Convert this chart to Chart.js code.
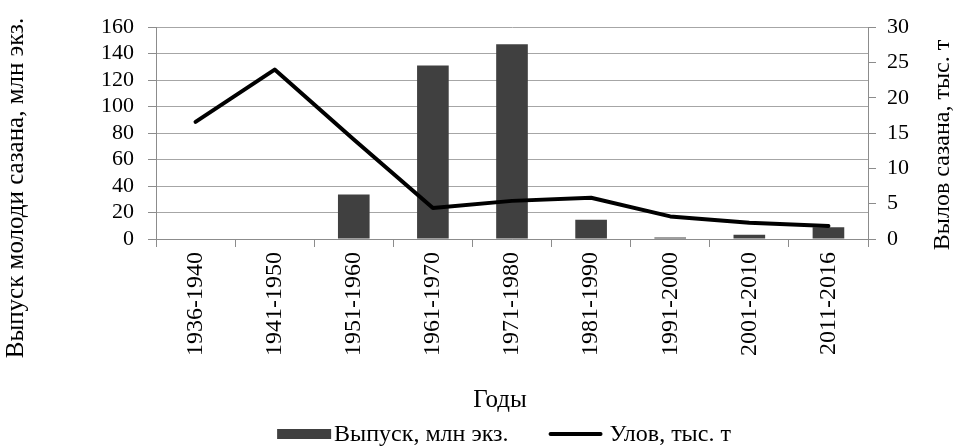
<!DOCTYPE html>
<html>
<head>
<meta charset="utf-8">
<script src="https://cdn.jsdelivr.net/npm/chart.js@4"></script>
<style>
  html, body { margin: 0; padding: 0; background: #fff; }
  #wrap { width: 956px; height: 447px; }
</style>
</head>
<body>
<div id="wrap"><canvas id="c"></canvas></div>
<script>
// данные
const years = ['1936-1940', '1941-1950', '1951-1960', '1961-1970', '1971-1980',
               '1981-1990', '1991-2000', '2001-2010', '2011-2016'];
const release = [0, 0, 33.7, 131, 147.2, 14.5, 1.2, 3.2, 8.8];   // млн экз.
const catchT  = [16.6, 24.0, 14.1, 4.4, 5.4, 5.85, 3.2, 2.3, 1.85]; // тыс. т
const leftTicks = [0, 20, 40, 60, 80, 100, 120, 140, 160];
const rightTicks = [0, 5, 10, 15, 20, 25, 30];

const FONT = '"Liberation Serif", "Times New Roman", serif';
const BAR_COLOR = '#404040';
const GRID = '#a6a6a6';
const AXIS = '#8c8c8c';

// подписи осей и легенда рисуем сами
const titlesPlugin = {
  id: 'titles',
  afterDraw(chart) {
    const ctx = chart.ctx;
    ctx.save();
    ctx.fillStyle = '#000';
    ctx.textAlign = 'center';
    ctx.textBaseline = 'middle';

    // левая ось
    ctx.font = '25px ' + FONT;
    ctx.save();
    ctx.translate(16, 188);
    ctx.rotate(-Math.PI / 2);
    ctx.fillText('Выпуск молоди сазана, млн экз.', 0, 0);
    ctx.restore();

    // правая ось
    ctx.font = '24px ' + FONT;
    ctx.save();
    ctx.translate(943, 145);
    ctx.rotate(-Math.PI / 2);
    ctx.fillText('Вылов сазана, тыс. т', 0, 0);
    ctx.restore();

    // ось X
    ctx.font = '25px ' + FONT;
    ctx.fillText('Годы', 500, 400);

    // легенда
    ctx.font = '24px ' + FONT;
    const y = 434;
    const sw = 54, gap = 3, itemGap = 40;
    const t1 = 'Выпуск, млн экз.', t2 = 'Улов, тыс. т';
    const w1 = ctx.measureText(t1).width, w2 = ctx.measureText(t2).width;
    const total = sw + gap + w1 + itemGap + sw + gap + w2;
    let x = 502 - total / 2;
    ctx.fillStyle = BAR_COLOR;
    ctx.fillRect(x, y - 5, sw, 10);
    x += sw + gap;
    ctx.fillStyle = '#000';
    ctx.textAlign = 'left';
    ctx.fillText(t1, x, y + 1);
    x += w1 + itemGap;
    ctx.strokeStyle = '#000';
    ctx.lineWidth = 4;
    ctx.lineCap = 'round';
    ctx.beginPath();
    ctx.moveTo(x + 2, y);
    ctx.lineTo(x + sw - 2, y);
    ctx.stroke();
    x += sw + gap + 4;
    ctx.fillText(t2, x, y + 1);
    ctx.restore();
  }
};

new Chart(document.getElementById('c'), {
  data: {
    labels: years,
    datasets: [
      {
        type: 'line',
        label: 'Улов, тыс. т',
        data: catchT,
        yAxisID: 'y1',
        borderColor: '#000',
        borderWidth: 4,
        pointRadius: 0,
        tension: 0,
        borderCapStyle: 'round',
        borderJoinStyle: 'round',
        order: 0
      },
      {
        type: 'bar',
        label: 'Выпуск, млн экз.',
        data: release,
        yAxisID: 'y',
        backgroundColor: BAR_COLOR,
        barPercentage: 0.5,
        categoryPercentage: 0.8,
        order: 1
      }
    ]
  },
  options: {
    responsive: true,
    maintainAspectRatio: false,
    animation: false,
    layout: { padding: { top: 22, left: 0, right: 0, bottom: 0 } },
    plugins: {
      legend: { display: false },
      tooltip: { enabled: false }
    },
    scales: {
      x: {
        offset: true,
        grid: { drawOnChartArea: false, drawTicks: true, tickLength: 8, color: AXIS, offset: true },
        border: { color: AXIS },
        ticks: {
          color: '#000',
          font: { family: FONT, size: 24 },
          minRotation: 90,
          maxRotation: 90,
          autoSkip: false,
          padding: 5
        },
        afterFit(s) { s.height = 208; }
      },
      y: {
        position: 'left',
        min: 0,
        max: 160,
        afterBuildTicks(s) { s.ticks = leftTicks.map(v => ({ value: v })); },
        grid: { color: GRID, tickLength: 8, tickColor: AXIS },
        border: { color: AXIS },
        ticks: { color: '#000', font: { family: FONT, size: 22 }, padding: 14, autoSkip: false },
        afterFit(s) { s.width = 156; }
      },
      y1: {
        position: 'right',
        min: 0,
        max: 30,
        afterBuildTicks(s) { s.ticks = rightTicks.map(v => ({ value: v })); },
        grid: { drawOnChartArea: false, tickLength: 8, color: AXIS },
        border: { color: AXIS },
        ticks: { color: '#000', font: { family: FONT, size: 22 }, padding: 11, autoSkip: false },
        afterFit(s) { s.width = 88; }
      }
    }
  },
  plugins: [titlesPlugin]
});
</script>
</body>
</html>
